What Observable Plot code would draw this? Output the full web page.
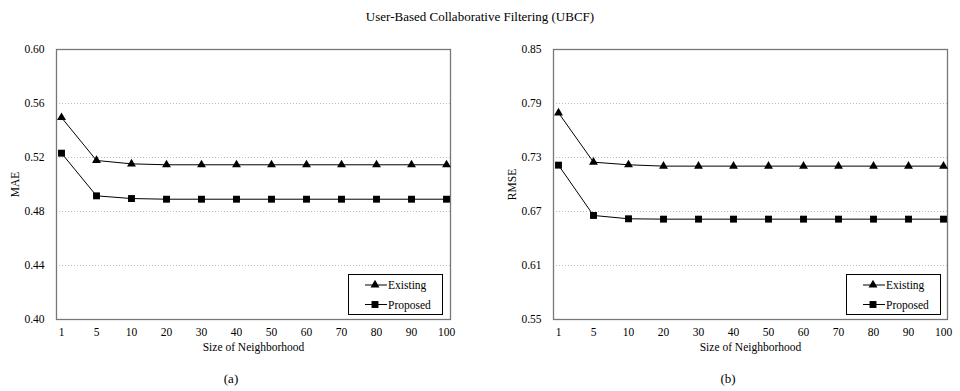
<!DOCTYPE html>
<html>
<head>
<meta charset="utf-8">
<script src="https://cdn.jsdelivr.net/npm/d3@7"></script>
<script src="https://cdn.jsdelivr.net/npm/@observablehq/plot@0.6"></script>
<style>
  html, body { margin: 0; padding: 0; background: #fff; }
  body { width: 960px; height: 391px; position: relative; overflow: hidden; font-family: "Liberation Serif", "Times New Roman", Times, serif; color: #000; }
  svg, svg text { font-family: "Liberation Serif", "Times New Roman", Times, serif !important; }
  #title { position: absolute; left: 0; width: 960px; top: 9px; text-align: center; font-size: 13px; }
  .panel { position: absolute; top: 30px; }
  .cap { position: absolute; top: 371px; font-size: 13px; transform: translateX(-50%); }
</style>
</head>
<body>
<div id="title">User-Based Collaborative Filtering (UBCF)</div>
<div id="left" class="panel" style="left:0px"></div>
<div id="right" class="panel" style="left:480px"></div>
<div class="cap" style="left:231px">(a)</div>
<div class="cap" style="left:728px">(b)</div>
<script>
// Data
const neighborhood = ["1", "5", "10", "20", "30", "40", "50", "60", "70", "80", "90", "100"];
const maeExisting = [0.5496, 0.5178, 0.5153, 0.5146, 0.5146, 0.5146, 0.5146, 0.5146, 0.5146, 0.5146, 0.5146, 0.5146];
const maeProposed = [0.5232, 0.4916, 0.4896, 0.4891, 0.4891, 0.4891, 0.4891, 0.4891, 0.4891, 0.4891, 0.4891, 0.4891];
const rmseExisting = [0.7796, 0.7248, 0.7219, 0.7204, 0.7204, 0.7204, 0.7204, 0.7204, 0.7204, 0.7204, 0.7204, 0.7204];
const rmseProposed = [0.7215, 0.6656, 0.6619, 0.6615, 0.6615, 0.6615, 0.6615, 0.6615, 0.6615, 0.6615, 0.6615, 0.6615];
const maeTicks = [0.40, 0.44, 0.48, 0.52, 0.56, 0.60];
const rmseTicks = [0.55, 0.61, 0.67, 0.73, 0.79, 0.85];
const seriesNames = ["Existing", "Proposed"];
const seriesSymbols = ["triangle", "square"];

function rows(existing, proposed) {
  const out = [];
  neighborhood.forEach((n, i) => {
    out.push({n, v: existing[i], s: seriesNames[0]});
    out.push({n, v: proposed[i], s: seriesNames[1]});
  });
  return out;
}

function makeChart(data, ticks, yLabel, mLeft, mRight) {
  const interior = ticks.slice(1, -1);
  return Plot.plot({
    width: 480,
    height: 330,
    marginLeft: mLeft,
    marginRight: mRight,
    marginTop: 19,
    marginBottom: 41,
    style: {fontSize: "11px", color: "#000", background: "#fff"},
    x: {type: "point", domain: neighborhood, padding: 0},
    y: {domain: [ticks[0], ticks[ticks.length - 1]]},
    marks: [
      Plot.ruleY(interior, {stroke: "#bbb", strokeDasharray: "1,2", strokeWidth: 1}),
      Plot.frame({stroke: "#777", strokeWidth: 1.3}),
      Plot.axisX({tickSize: 0, tickPadding: 8, label: "Size of Neighborhood", labelAnchor: "center", labelOffset: 31, fontSize: 11.5}),
      Plot.axisY({ticks, tickFormat: d3.format(".2f"), tickSize: 0, tickPadding: 12, label: yLabel, labelAnchor: "center", labelOffset: 46, labelArrow: "none", fontSize: 11.5}),
      Plot.line(data, {x: "n", y: "v", z: "s", stroke: "#000", strokeWidth: 1}),
      Plot.dot(data.filter(d => d.s === "Existing"), {x: "n", y: "v", symbol: "triangle", r: 3.3, fill: "#000", stroke: "none"}),
      Plot.dot(data.filter(d => d.s === "Proposed"), {x: "n", y: "v", symbol: "square", r: 3.9, fill: "#000", stroke: "none"})
    ]
  });
}

function legend(left, top) {
  const svg = d3.create("svg").attr("width", 95).attr("height", 41)
    .style("position", "absolute").style("left", left + "px").style("top", top + "px")
    .style("font-size", "11.5px");
  svg.append("rect").attr("x", 0.5).attr("y", 0.5).attr("width", 94).attr("height", 40).attr("fill", "#fff").attr("stroke", "#000");
  seriesNames.forEach((name, i) => {
    const y = 11 + i * 19.5;
    svg.append("line").attr("x1", 17).attr("x2", 39).attr("y1", y).attr("y2", y).attr("stroke", "#000");
    const tri = seriesSymbols[i] === "triangle";
    const sym = d3.symbol(tri ? d3.symbolTriangle : d3.symbolSquare, tri ? Math.PI * 3.3 * 3.3 : Math.PI * 3.9 * 3.9);
    svg.append("path").attr("d", sym()).attr("transform", `translate(27,${y})`).attr("fill", "#000");
    svg.append("text").attr("x", 40).attr("y", y).attr("dy", "0.35em").text(name);
  });
  return svg.node();
}

document.getElementById("left").appendChild(makeChart(rows(maeExisting, maeProposed), maeTicks, "MAE", 56, 30));
document.getElementById("right").appendChild(makeChart(rows(rmseExisting, rmseProposed), rmseTicks, "RMSE", 73, 13));
document.body.appendChild(legend(348, 274));
document.body.appendChild(legend(846, 274));
</script>
</body>
</html>
